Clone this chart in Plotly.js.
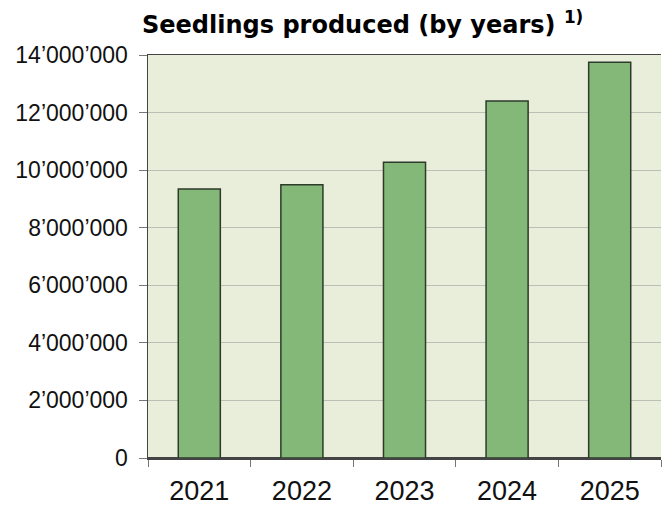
<!DOCTYPE html>
<html>
<head>
<meta charset="utf-8">
<script src="https://cdn.plot.ly/plotly-3.0.1.min.js"></script>
<style>html,body{margin:0;padding:0;background:#fff;}#chart{width:662px;height:507px;}</style>
</head>
<body>
<div id="chart"></div>
<script>
const years = ['2021', '2022', '2023', '2024', '2025'];
const seedlings = [9345000, 9490000, 10270000, 12400000, 13750000];
const yTickVals = [0, 2000000, 4000000, 6000000, 8000000, 10000000, 12000000, 14000000];

const trace = {
  type: 'bar',
  x: years,
  y: seedlings,
  marker: {color: '#84b878', line: {color: '#2e3a2a', width: 1.5}},
  hoverinfo: 'x+y'
};

const layout = {
  width: 662, height: 507,
  margin: {l: 148, r: 1, t: 55, b: 49},
  paper_bgcolor: '#ffffff',
  plot_bgcolor: '#e9eedb',
  separators: '.’',
  bargap: 0.59,
  showlegend: false,
  title: {
    text: '<b>Seedlings produced (by years) <sup>1)</sup></b>',
    font: {family: 'DejaVu Sans', size: 24, color: '#000'},
    xref: 'container', yref: 'container',
    x: 142/662, xanchor: 'left',
    y: 1 - 25/507, yanchor: 'middle'
  },
  xaxis: {
    type: 'category',
    showline: true, linecolor: '#444', linewidth: 1.5,
    mirror: true,
    ticks: 'outside', ticklen: 7, tickcolor: '#777', tickwidth: 1,
    tickson: 'boundaries',
    ticklabelstandoff: 8,
    showgrid: false,
    tickfont: {family: 'Liberation Sans, Arial', size: 27, color: '#111'}
  },
  yaxis: {
    range: [0, 14000000],
    tickvals: yTickVals,
    tickformat: ',d',
    showline: true, linecolor: '#444', linewidth: 1.5,
    ticks: 'outside', ticklen: 8, tickcolor: '#777', tickwidth: 1,
    ticklabelstandoff: 6,
    showgrid: true, gridcolor: '#bcbfb6', gridwidth: 1.2,
    zeroline: true, zerolinecolor: '#444', zerolinewidth: 1.5,
    tickfont: {family: 'Liberation Sans, Arial', size: 23, color: '#111'}
  }
};

Plotly.newPlot('chart', [trace], layout, {displayModeBar: false, staticPlot: true});
</script>
</body>
</html>
